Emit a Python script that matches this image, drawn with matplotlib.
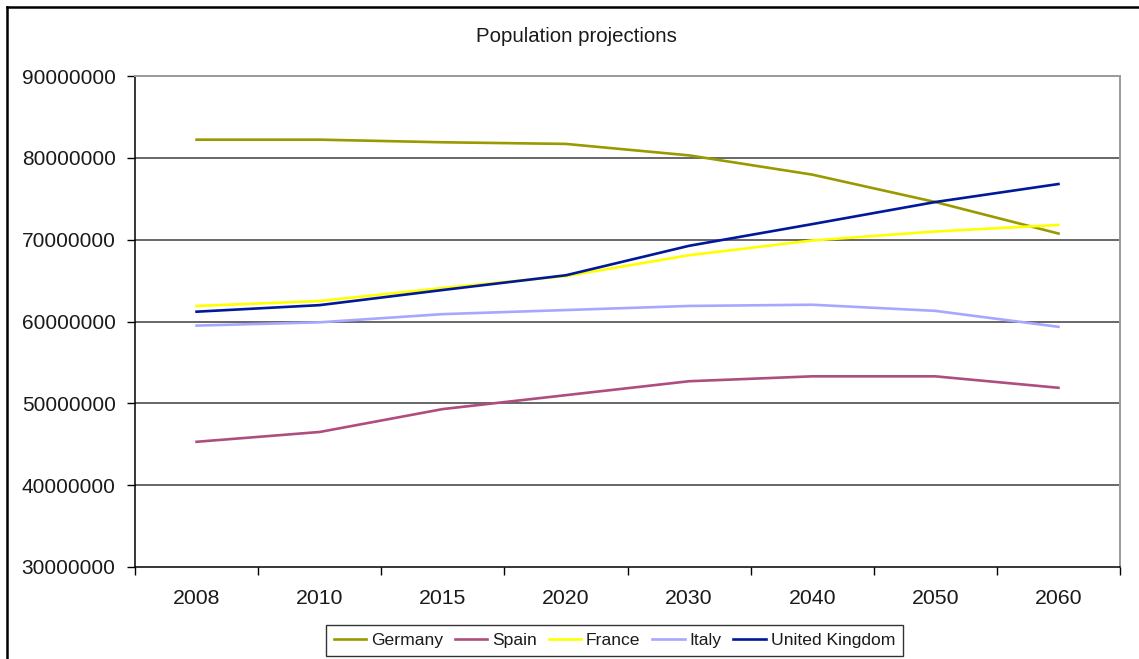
import matplotlib
matplotlib.use("Agg")
import matplotlib.pyplot as plt
from matplotlib.lines import Line2D
from matplotlib.ticker import FixedLocator, NullFormatter, FuncFormatter

plt.rcParams['font.family'] = ['Liberation Sans', 'DejaVu Sans']

years = ["2008", "2010", "2015", "2020", "2030", "2040", "2050", "2060"]
germany = [82.22e6, 82.22e6, 81.9e6, 81.7e6, 80.3e6, 77.95e6, 74.6e6, 70.75e6]
spain = [45.3e6, 46.5e6, 49.3e6, 51.0e6, 52.7e6, 53.3e6, 53.3e6, 51.9e6]
france = [61.9e6, 62.5e6, 64.1e6, 65.55e6, 68.1e6, 69.9e6, 71.0e6, 71.8e6]
italy = [59.5e6, 59.9e6, 60.9e6, 61.4e6, 61.9e6, 62.05e6, 61.3e6, 59.35e6]
uk = [61.2e6, 62.0e6, 63.85e6, 65.65e6, 69.25e6, 71.9e6, 74.6e6, 76.8e6]

series_names = ["Germany", "Spain", "France", "Italy", "United Kingdom"]
series_values = [germany, spain, france, italy, uk]
colors = ["#999900", "#AF4D7E", "#FFFF00", "#A6A8FF", "#00189A"]

yticks = [30000000, 40000000, 50000000, 60000000, 70000000, 80000000, 90000000]

fig = plt.figure(figsize=(11.39, 6.59), dpi=100)
ax = fig.add_axes([135/1139, 1 - 567/659, (1120-135)/1139, (567-76)/659])

x = list(range(len(years)))
for name, vals, c in zip(series_names, series_values, colors):
    ax.plot(x, vals, color=c, lw=1.9, label=name, solid_joinstyle='round', zorder=3)

ax.set_xlim(-0.5, len(years) - 0.5)
ax.set_ylim(yticks[0], yticks[-1])
ax.set_yticks(yticks)
ax.yaxis.set_major_formatter(FuncFormatter(lambda v, p: f"{int(v)}"))
for yv in yticks[1:-1]:
    ax.axhline(yv, color='#3f3f3f', lw=1.1, zorder=1)

ax.xaxis.set_major_locator(FixedLocator([i - 0.5 for i in range(len(years) + 1)]))
ax.xaxis.set_major_formatter(NullFormatter())
ax.xaxis.set_minor_locator(FixedLocator(x))
ax.set_xticklabels(years, minor=True)
ax.tick_params(axis='x', which='major', length=6, width=1, color='black', direction='out')
ax.tick_params(axis='x', which='minor', length=0, pad=16, labelsize=15.3, labelcolor='#1a1a1a')
ax.tick_params(axis='y', length=6, width=1, color='black', direction='out', pad=8, labelsize=15, labelcolor='#1a1a1a')

for s in ['left', 'bottom']:
    ax.spines[s].set_color('black')
    ax.spines[s].set_linewidth(1.1)
for s in ['top', 'right']:
    ax.spines[s].set_color('#9a9a9a')
    ax.spines[s].set_linewidth(1.4)

fig.text(576/1139, 1 - 37/659, "Population projections", ha='center', va='center', fontsize=14.7, color='#1a1a1a')

leg = fig.legend(loc='center', bbox_to_anchor=(614.5/1139, 1 - 640/659), ncol=5,
                 fontsize=12.6, frameon=True, fancybox=False, edgecolor='black',
                 handlelength=1.85, handletextpad=0.28, columnspacing=0.67,
                 borderpad=0.45, borderaxespad=0)
leg.get_frame().set_linewidth(1.0)
for t in leg.get_texts():
    t.set_color('#1a1a1a')

# outer chart border (partially cropped in reference)
fig.add_artist(Line2D([7/1139, 1.0], [1 - 7/659, 1 - 7/659], transform=fig.transFigure, color='black', lw=1.8))
fig.add_artist(Line2D([7/1139, 7/1139], [1 - 7/659, 0.0], transform=fig.transFigure, color='black', lw=1.8))

fig.savefig("out.png", dpi=100)
